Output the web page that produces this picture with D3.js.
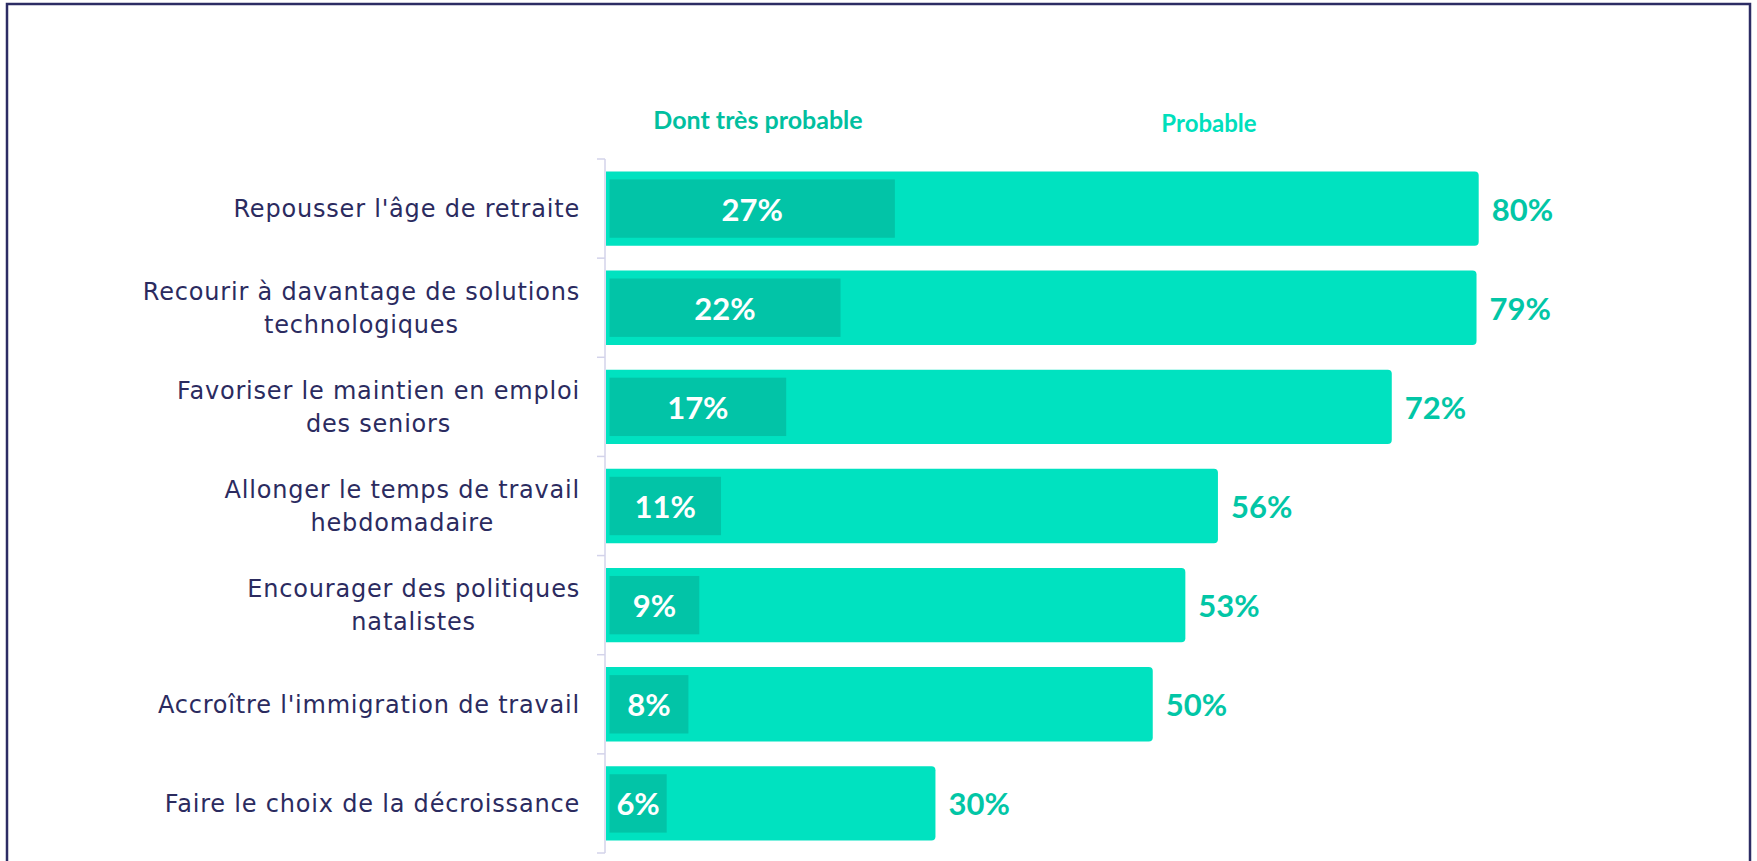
<!DOCTYPE html>
<html>
<head>
<meta charset="utf-8">
<script src="https://cdn.jsdelivr.net/npm/d3@7"></script>
<style>
  html, body { margin: 0; padding: 0; background: #ffffff; }
  svg { display: block; }
</style>
</head>
<body>
<svg id="chart" width="1757" height="861"></svg>
<script>
// ---- data ----
const categories = [
  ["Repousser l'âge de retraite"],
  ["Recourir à davantage de solutions", "technologiques"],
  ["Favoriser le maintien en emploi", "des seniors"],
  ["Allonger le temps de travail", "hebdomadaire"],
  ["Encourager des politiques", "natalistes"],
  ["Accroître l'immigration de travail"],
  ["Faire le choix de la décroissance"]
];
// bar lengths (the 79% bar is drawn as long as the 80% one)
const probable = [80, 79.8, 72, 56, 53, 50, 30];
const probableLabels = ["80%", "79%", "72%", "56%", "53%", "50%", "30%"];
const tresProbable = [27, 22, 17, 11, 9, 8, 6];
const tresProbableLabels = ["27%", "22%", "17%", "11%", "9%", "8%", "6%"];
const seriesNames = ["Dont très probable", "Probable"];

// ---- styles ----
const outerColor = "#00e2c0";
const innerColor = "#02c4a7";
const valueColor = "#02c6a6";
const header1Color = "#01bf9f";
const header2Color = "#00dfbc";
const labelColor = "#2b2b5f";
const axisColor = "#d3d3ea";
const frameColor = "#2c2c64";

const svg = d3.select("#chart");

// frame
svg.append("rect")
  .attr("x", 7).attr("y", 4)
  .attr("width", 1743).attr("height", 900)
  .attr("fill", "none")
  .attr("stroke", frameColor)
  .attr("stroke-width", 2.5);

const keys = categories.map((c, i) => i);
const y = d3.scaleBand()
  .domain(keys)
  .range([159, 853])
  .paddingInner(0.25)
  .paddingOuter(0.125);

const x = d3.scaleLinear().domain([0, 100]).range([609.5, 1696]);
const axisX = 605;

// axis line and ticks at band boundaries
const step = y.step();
const boundaries = d3.range(categories.length + 1).map(i => y.range()[0] + i * step);
const axisG = svg.append("g");
axisG.append("line")
  .attr("x1", axisX).attr("x2", axisX)
  .attr("y1", boundaries[0]).attr("y2", boundaries[boundaries.length - 1])
  .attr("stroke", axisColor).attr("stroke-width", 1.5);
axisG.selectAll("line.tick").data(boundaries).join("line")
  .attr("class", "tick")
  .attr("x1", axisX - 8).attr("x2", axisX)
  .attr("y1", d => d).attr("y2", d => d)
  .attr("stroke", axisColor).attr("stroke-width", 1.5);

// outer bars (rounded right corners)
function barPath(x0, x1, y0, h, r) {
  return `M${x0},${y0}H${x1 - r}Q${x1},${y0} ${x1},${y0 + r}V${y0 + h - r}Q${x1},${y0 + h} ${x1 - r},${y0 + h}H${x0}Z`;
}
svg.append("g").selectAll("path").data(keys).join("path")
  .attr("d", i => barPath(axisX + 1, x(probable[i]), y(i), y.bandwidth(), 4))
  .attr("fill", outerColor);

// inner bars
const inset = 8;
svg.append("g").selectAll("rect").data(keys).join("rect")
  .attr("x", x(0))
  .attr("y", i => y(i) + inset)
  .attr("width", i => x(tresProbable[i]) - inset - x(0))
  .attr("height", y.bandwidth() - 2 * inset)
  .attr("fill", innerColor);

// inner labels
svg.append("g").selectAll("text").data(keys).join("text")
  .attr("x", i => (x(0) + x(tresProbable[i]) - inset) / 2)
  .attr("y", i => y(i) + y.bandwidth() / 2 + 12)
  .attr("text-anchor", "middle")
  .attr("font-family", "Lato")
  .attr("font-weight", "bold")
  .attr("font-size", 31)
  .attr("fill", "#ffffff")
  .text(i => tresProbableLabels[i]);

// value labels
svg.append("g").selectAll("text").data(keys).join("text")
  .attr("x", i => x(probable[i]) + 13)
  .attr("y", i => y(i) + y.bandwidth() / 2 + 12)
  .attr("font-family", "Lato")
  .attr("font-weight", "bold")
  .attr("font-size", 31)
  .attr("fill", valueColor)
  .text(i => probableLabels[i]);

// category labels (right-aligned block, lines centred)
const labelRight = 580;
const lineH = 33;
const labelG = svg.append("g");
keys.forEach(i => {
  const lines = categories[i];
  const cy = y(i) + y.bandwidth() / 2;
  const firstBase = cy + 8.5 - (lines.length - 1) * lineH / 2;
  const g = labelG.append("g");
  const texts = lines.map((t, k) => g.append("text")
    .attr("y", firstBase + k * lineH)
    .attr("text-anchor", "middle")
    .attr("font-family", "DejaVu Sans")
    .attr("font-size", 24)
    .attr("letter-spacing", 0.8)
    .attr("fill", labelColor)
    .text(t));
  const w = d3.max(texts, t => t.node().getBBox().width);
  texts.forEach(t => t.attr("x", labelRight - w / 2));
});

// series headers
svg.append("text")
  .attr("x", 758).attr("y", 129)
  .attr("text-anchor", "middle")
  .attr("font-family", "Lato").attr("font-weight", "bold")
  .attr("font-size", 25)
  .attr("fill", header1Color)
  .text(seriesNames[0]);
svg.append("text")
  .attr("x", 1209).attr("y", 132)
  .attr("text-anchor", "middle")
  .attr("font-family", "Lato").attr("font-weight", "bold")
  .attr("font-size", 24)
  .attr("fill", header2Color)
  .text(seriesNames[1]);
</script>
</body>
</html>
